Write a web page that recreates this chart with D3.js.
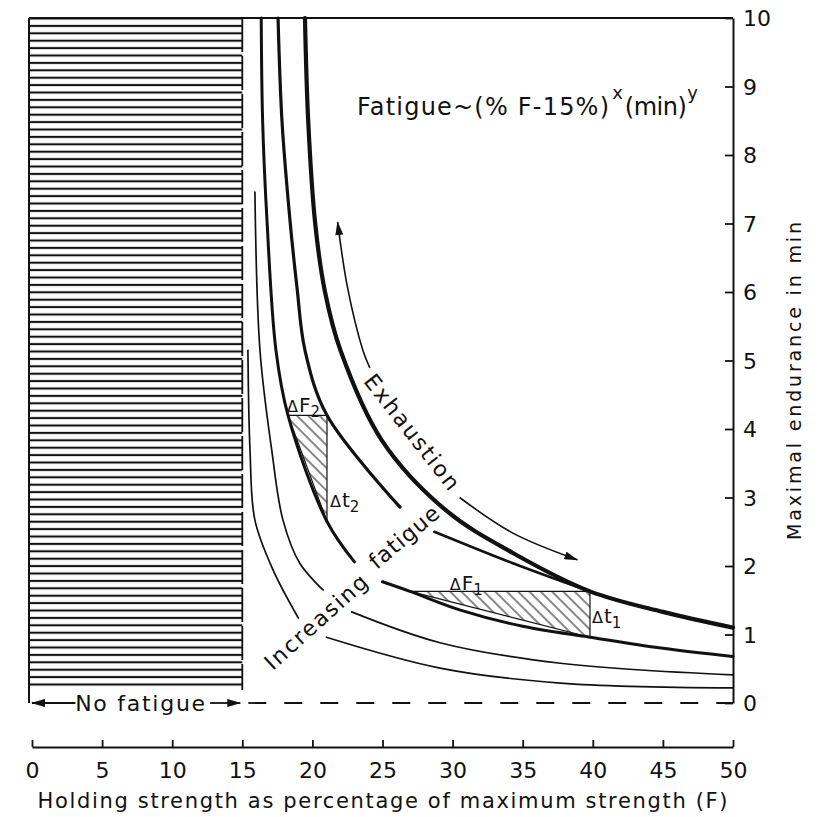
<!DOCTYPE html>
<html><head><meta charset="utf-8">
<script src="https://cdn.jsdelivr.net/npm/d3@7"></script>
<style>
body{margin:0;background:#fff}
svg{display:block}
text{font-family:"DejaVu Sans",sans-serif;fill:#111}
</style>
</head><body><svg id="c" width="830" height="817"></svg>
<script>
// ---------- data ----------
const xTicks = [0,5,10,15,20,25,30,35,40,45,50];
const yTicks = [0,1,2,3,4,5,6,7,8,9,10];
const xTitle = "Holding strength as percentage of maximum strength (F)";
const yTitle = "Maximal endurance in min";
const noFatigueLimit = 15;   // % F
// curves: [holding strength %F, endurance min]
const exhaustionCurve = [[19.47,10],[19.7,8.5],[20.2,7.0],[20.9,6.0],[22.0,5.15],[25.0,3.82],[29.6,2.8],[34.3,2.19],[39.8,1.63],[45,1.33],[50,1.1]];
const curveA2a = [[17.55,10],[17.83,8.5],[18.4,7.05],[18.9,6.07],[19.47,5.15],[21.04,4.2],[26.25,2.86]];
const curveA2b = [[28.7,2.5],[34.3,2.04],[39.1,1.68],[39.8,1.63]];
const curveBa = [[16.35,10],[16.45,8.5],[16.76,7.05],[17.4,5.15],[18.26,4.2],[21.04,2.65],[23.0,2.06]];
const curveBb = [[25.0,1.77],[26.96,1.63],[30.5,1.36],[35,1.12],[39.8,0.96],[45,0.8],[50,0.68]];
const curveCa = [[15.9,7.46],[16.26,5.15],[17.1,3.69],[17.9,2.67],[19.1,2.04],[20.76,1.65]];
const curveCb = [[22.8,1.33],[29.1,0.88],[37.7,0.58],[50,0.41]];
const curveDa = [[15.4,5.15],[15.55,3.69],[15.9,2.67],[17.2,1.94],[19.0,1.24]];
const curveDb = [[21.0,0.96],[29.1,0.51],[37.7,0.29],[50,0.22]];
const arrowUp = [[24.1,4.89],[23.6,5.15],[22.5,6.07],[21.8,7.02]];
const arrowDown = [[30.5,3.0],[34.3,2.48],[38.9,2.09]];
// hatched triangles: [F, t] vertices
const triangle2 = [[18.26,4.2],[21.04,4.2],[21.04,2.65]];
const triangle1 = [[26.96,1.63],[39.8,1.63],[39.8,0.96]];

// ---------- layout ----------
const svg = d3.select("#c");
const x = d3.scaleLinear().domain([0,50]).range([32,733]);
const y = d3.scaleLinear().domain([0,10]).range([703,18]);
const xAxisY = 747;

const defs = svg.append("defs");
const hp = defs.append("pattern").attr("id","hz").attr("patternUnits","userSpaceOnUse")
  .attr("width",10).attr("height",7.4);
hp.append("rect").attr("width",10).attr("height",7.4).attr("fill","#fff");
hp.append("line").attr("x1",0).attr("x2",10).attr("y1",3.7).attr("y2",3.7).attr("stroke","#111").attr("stroke-width",2.1);
const dp = defs.append("pattern").attr("id","dg").attr("patternUnits","userSpaceOnUse")
  .attr("width",8).attr("height",8).attr("patternTransform","rotate(-45)");
dp.append("rect").attr("width",8).attr("height",8).attr("fill","#fff");
dp.append("line").attr("x1",4).attr("x2",4).attr("y1",0).attr("y2",8).attr("stroke","#111").attr("stroke-width",1);
const mk = defs.append("marker").attr("id","ah").attr("viewBox","0 0 14 8").attr("refX",13).attr("refY",4)
  .attr("markerWidth",14).attr("markerHeight",8).attr("markerUnits","userSpaceOnUse").attr("orient","auto-start-reverse");
mk.append("path").attr("d","M0,0 L14,4 L0,8 Z").attr("fill","#111");

// hatched no-fatigue band
svg.append("rect").attr("x",x(0)-3).attr("y",y(10)).attr("width",x(noFatigueLimit)-x(0)+3)
  .attr("height",690-y(10)).attr("fill","url(#hz)");
svg.append("line").attr("x1",x(0)-3).attr("x2",x(0)-3).attr("y1",y(10)).attr("y2",y(0))
  .attr("stroke","#111").attr("stroke-width",2);
svg.append("line").attr("x1",x(noFatigueLimit)).attr("x2",x(noFatigueLimit)).attr("y1",y(10)).attr("y2",690)
  .attr("stroke","#111").attr("stroke-width",1.8).attr("stroke-dasharray","34,4");
// top border
svg.append("line").attr("x1",x(0)-3).attr("x2",x(50)).attr("y1",y(10)).attr("y2",y(10))
  .attr("stroke","#111").attr("stroke-width",2);
// dashed zero line
svg.append("line").attr("x1",x(noFatigueLimit)+6).attr("x2",x(50)).attr("y1",y(0)).attr("y2",y(0))
  .attr("stroke","#111").attr("stroke-width",1.8).attr("stroke-dasharray","18,18");

// no fatigue arrows
svg.append("line").attr("x1",x(3.1)).attr("x2",x(0)).attr("y1",y(0)).attr("y2",y(0))
  .attr("stroke","#111").attr("stroke-width",1.8).attr("marker-end","url(#ah)");
svg.append("line").attr("x1",x(12.7)).attr("x2",x(15)-2).attr("y1",y(0)).attr("y2",y(0))
  .attr("stroke","#111").attr("stroke-width",1.8).attr("marker-end","url(#ah)");
svg.append("text").attr("x",(x(0)+x(15))/2+3).attr("y",y(0)+8).attr("text-anchor","middle")
  .attr("font-size",22).attr("textLength",130).text("No fatigue");

// hatched triangles
const poly = pts => "M" + pts.map(d=>[x(d[0]),y(d[1])].join(",")).join("L") + "Z";
[triangle2, triangle1].forEach(tri=>{
  svg.append("path").attr("d",poly(tri)).attr("fill","url(#dg)").attr("stroke","#111").attr("stroke-width",1.2);
});

// curves
const line = d3.line().x(d=>x(d[0])).y(d=>y(d[1])).curve(d3.curveCatmullRom.alpha(0.5));
const curves = [
  [curveDa,1.7],[curveDb,1.7],[curveCa,1.7],[curveCb,1.7],
  [curveBa,3],[curveBb,3],[curveA2a,3.2],[curveA2b,2.6],[exhaustionCurve,4.2]
];
curves.forEach(([pts,w])=>{
  svg.append("path").attr("d",line(pts)).attr("fill","none").attr("stroke","#111")
    .attr("stroke-width",w).attr("stroke-linecap","round");
});
[arrowUp, arrowDown].forEach(pts=>{
  svg.append("path").attr("d",line(pts)).attr("fill","none").attr("stroke","#111")
    .attr("stroke-width",1.6).attr("marker-end","url(#ah)");
});

// axes
const gx = svg.append("g").attr("transform",`translate(0,${xAxisY})`)
  .call(d3.axisBottom(x).tickValues(xTicks).tickSizeInner(-7).tickSizeOuter(0).tickPadding(15).tickFormat(d3.format("d")));
const gy = svg.append("g").attr("transform",`translate(${x(50)},0)`)
  .call(d3.axisRight(y).tickValues(yTicks).tickSizeInner(-8).tickSizeOuter(0).tickPadding(10).tickFormat(d3.format("d")));
[gx,gy].forEach(g=>{
  g.select(".domain").attr("stroke","#111").attr("stroke-width",2);
  g.selectAll(".tick line").attr("stroke","#111").attr("stroke-width",1.8);
  g.selectAll(".tick text").attr("font-size",22).attr("font-family","DejaVu Sans, sans-serif").attr("fill","#111");
});
gy.selectAll(".tick text").attr("dy","0.36em");

svg.append("text").attr("x",(x(0)+x(50))/2).attr("y",808).attr("text-anchor","middle")
  .attr("font-size",21).attr("textLength",690).attr("lengthAdjust","spacing").text(xTitle);
svg.append("text").attr("transform","translate(801,381) rotate(-90)").attr("text-anchor","middle")
  .attr("font-size",19).attr("textLength",318).attr("lengthAdjust","spacing").text(yTitle);

// formula
const f = svg.append("text").attr("x",357).attr("y",115).attr("font-size",24);
f.append("tspan").attr("textLength",252).attr("lengthAdjust","spacing").text("Fatigue~(% F-15%)");
f.append("tspan").attr("dy",-16).attr("dx",2).attr("font-size",18).text("x");
f.append("tspan").attr("dy",16).attr("dx",2).attr("textLength",62).attr("lengthAdjust","spacing").text("(min)");
f.append("tspan").attr("dy",-16).attr("dx",1).attr("font-size",18).text("y");

// region labels
svg.append("text").attr("transform","translate(412,432) rotate(52)").attr("text-anchor","middle")
  .attr("dy","0.35em").attr("font-size",22).attr("textLength",140).text("Exhaustion");
svg.append("text").attr("transform","translate(316,622) rotate(-42)").attr("text-anchor","middle")
  .attr("dy","0.35em").attr("font-size",22).attr("textLength",130).text("Increasing");
svg.append("text").attr("transform","translate(404,537) rotate(-40)").attr("text-anchor","middle")
  .attr("dy","0.35em").attr("font-size",22).attr("textLength",84).text("fatigue");

function delta(px,py,letter,sub){
  const t = svg.append("text").attr("x",px).attr("y",py).attr("font-size",20);
  t.append("tspan").attr("font-size",16).text("Δ");
  t.append("tspan").attr("dx",1).text(letter);
  t.append("tspan").attr("dy",5).attr("font-size",15).text(sub);
}
delta(x(triangle2[0][0])-1, y(triangle2[0][1])-3, "F","2");
delta(x(triangle2[1][0])+3, y(2.9)+3, "t","2");
delta(x(29.8), y(triangle1[0][1])-1, "F","1");
delta(x(triangle1[1][0])+2, y(1.22)+4, "t","1");
</script>
</body></html>
